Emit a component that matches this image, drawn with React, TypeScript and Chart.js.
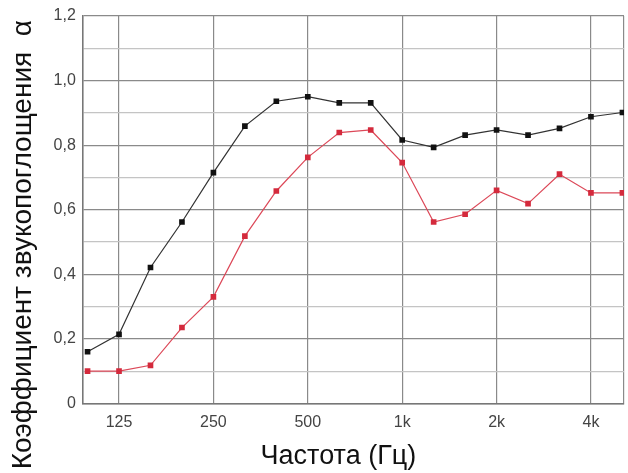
import React, { useEffect, useRef } from "react";
import { Chart, registerables } from "chart.js";

Chart.register(...registerables);

const bands = ["100", "125", "160", "200", "250", "315", "400", "500", "630", "800", "1000", "1250", "1600", "2000", "2500", "3150", "4000", "5000"];
const tickLabels: Record<number, string> = { 1: "125", 4: "250", 7: "500", 10: "1k", 13: "2k", 16: "4k" };
const blackSeries = [0.16, 0.214, 0.421, 0.562, 0.715, 0.859, 0.936, 0.95, 0.931, 0.931, 0.816, 0.793, 0.831, 0.847, 0.831, 0.852, 0.888, 0.901];
const redSeries = [0.1, 0.1, 0.118, 0.235, 0.33, 0.518, 0.658, 0.762, 0.839, 0.847, 0.746, 0.562, 0.586, 0.66, 0.619, 0.71, 0.652, 0.652];

const X_MIN = -0.15;
const X_MAX = 17.05;
const FONT = "Liberation Sans, Arial, sans-serif";

export default function App() {
  const ref = useRef<HTMLCanvasElement>(null);
  useEffect(() => {
    document.body.style.margin = "0";
    const ctx = ref.current!;
    const mk = (vals: number[]) => vals.map((v, i) => ({ x: i, y: v }));
    const chart = new Chart(ctx, {
      type: "line",
      data: {
        labels: bands,
        datasets: [
          {
            label: "A",
            data: mk(blackSeries),
            borderColor: "#333333",
            backgroundColor: "#111111",
            borderWidth: 1.2,
            pointStyle: "rect",
            pointRadius: 4,
            pointBorderWidth: 0,
            tension: 0,
          },
          {
            label: "B",
            data: mk(redSeries),
            borderColor: "#dc4858",
            backgroundColor: "#d42a3c",
            borderWidth: 1.2,
            pointStyle: "rect",
            pointRadius: 4,
            pointBorderWidth: 0,
            tension: 0,
          },
        ],
      },
      options: {
        animation: false,
        responsive: false,
        maintainAspectRatio: false,
        layout: { padding: { top: 16, right: -2, left: 0, bottom: 0 } },
        plugins: { legend: { display: false }, tooltip: { enabled: false } },
        scales: {
          x: {
            type: "linear",
            min: X_MIN,
            max: X_MAX,
            afterBuildTicks: (axis: any) => {
              axis.ticks = [X_MIN, 1, 4, 7, 10, 13, 16, X_MAX].map((v) => ({ value: v }));
            },
            ticks: {
              autoSkip: false,
              maxRotation: 0,
              color: "#444",
              font: { family: FONT, size: 16 },
              padding: 0,
              callback: (v: any) => tickLabels[v as number] ?? "",
            },
            grid: { color: "#8a8a8a", lineWidth: 1.2, drawTicks: true, tickLength: 10, tickColor: "rgba(0,0,0,0)" },
            border: { display: true, color: "#777", width: 1.5 },
            title: {
              display: true,
              text: "Частота (Гц)    ",
              color: "#111",
              font: { family: FONT, size: 27 },
              padding: { top: 8, bottom: 0 },
            },
          },
          y: {
            min: 0,
            max: 1.2,
            ticks: {
              stepSize: 0.1,
              color: "#444",
              font: { family: FONT, size: 16 },
              padding: 0,
              callback: (v: any) => {
                const n = Math.round((v as number) * 10);
                if (n % 2 !== 0) return "";
                return n === 0 ? "0" : (n / 10).toFixed(1).replace(".", ",");
              },
            },
            grid: {
              drawTicks: true,
              tickLength: 7,
              tickColor: "rgba(0,0,0,0)",
              color: (c: any) => {
                const n = Math.round(c.tick.value * 10);
                return n % 2 === 0 ? "#8a8a8a" : "#c4c4c4";
              },
              lineWidth: 1.2,
            },
            border: { display: true, color: "#777", width: 1.5 },
            title: {
              display: true,
              text: "Коэффициент звукопоглощения  α         ",
              color: "#111",
              font: { family: FONT, size: 28 },
              padding: { top: 6, bottom: 14 },
            },
          },
        },
      },
    });
    return () => chart.destroy();
  }, []);
  return <canvas ref={ref} width={628} height={473} style={{ display: "block" }} />;
}
